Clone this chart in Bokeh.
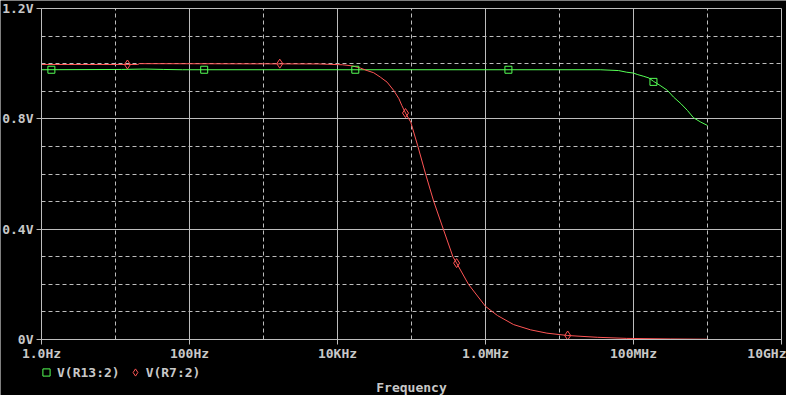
import numpy as np
from bokeh.plotting import figure
from bokeh.models import FixedTicker, Grid, Legend, LegendItem, Label
from bokeh.embed import file_html
from bokeh.resources import INLINE

# ---- data ----
x_ticks = [1, 1e2, 1e4, 1e6, 1e8, 1e10]
x_tick_labels = ["1.0Hz", "100Hz", "10KHz", "1.0MHz", "100MHz", "10GHz"]
x_minor_grid = [1e1, 1e3, 1e5, 1e7, 1e9]
y_ticks = [0, 0.4, 0.8, 1.2]
y_tick_labels = ["0V", "0.4V", "0.8V", "1.2V"]
y_minor_grid = [0.1, 0.2, 0.3, 0.5, 0.6, 0.7, 0.9, 1.0, 1.1]

green_freq = [1, 12, 25, 45, 80, 3.55e7, 6.3e7, 8.1e7, 1e8, 1.12e8, 1.38e8,
              1.62e8, 1.86e8, 2.29e8, 2.88e8, 3.47e8, 4.37e8, 5.37e8,
              6.46e8, 8.13e8, 1e9]
green_v = [0.978, 0.979, 0.9805, 0.979, 0.978, 0.978, 0.975, 0.969, 0.966,
           0.961, 0.954, 0.948, 0.936, 0.921, 0.903, 0.879, 0.855, 0.830,
           0.804, 0.788, 0.776]

red_freq = [1, 20, 21, 5.5e3, 1.17e4, 1.58e4, 2.04e4, 2.51e4, 3.09e4, 3.8e4,
            4.68e4, 5.75e4, 6.76e4, 7.41e4, 8.3e4, 9.77e4, 1.22e5, 1.55e5,
            2.0e5, 2.69e5, 3.63e5, 4.07e5, 5.89e5, 1e6, 1.45e6, 2.4e6,
            4.07e6, 6.76e6, 1.29e7, 3.24e7, 8.1e7, 3.2e8, 1e9]
red_v = [0.997, 0.997, 1.0, 0.999, 0.996, 0.992, 0.984, 0.975, 0.967, 0.951,
         0.933, 0.903, 0.873, 0.848, 0.821, 0.788, 0.70, 0.60, 0.50, 0.40,
         0.30, 0.277, 0.20, 0.12, 0.087, 0.054, 0.035, 0.023, 0.0145, 0.008,
         0.004, 0.002, 0.001]

green_mark_freq = [1.36, 158, 1.74e4, 2.04e6, 1.86e8]
green_mark_v = [0.978, 0.978, 0.978, 0.978, 0.934]
red_mark_freq = [14.5, 1660, 8.3e4, 4.07e5, 1.29e7]
red_mark_v = [0.997, 1.0, 0.821, 0.277, 0.0145]

series_names = ["V(R13:2)", "V(R7:2)"]
x_title = "Frequency"

GRID = "#bdbdbd"
TEXT = "#c8c8c8"
GREEN = "#55ff55"
RED = "#ff5555"
FONT = "DejaVu Sans Mono"

# ---- geometry: the frame is the whole canvas; data area 41..781 x 8..339 ----
X0, X1 = 1.0, 1e10
Y0, Y1 = 0.0, 1.2
PX_PER_DEC = 740 / 10.0
PX_PER_V = 331 / 1.2
LEFT_PX, RIGHT_PX, TOP_PX, FOOT_PX = 41, 5, 8, 56
x_start = 10 ** (np.log10(X0) - LEFT_PX / PX_PER_DEC)
x_end = 10 ** (np.log10(X1) + RIGHT_PX / PX_PER_DEC)
y_start = Y0 - FOOT_PX / PX_PER_V
y_end = Y1 + TOP_PX / PX_PER_V

p = figure(width=786, height=395, x_axis_type="log",
           x_range=(x_start, x_end), y_range=(y_start, y_end),
           min_border_left=0, min_border_right=0, min_border_top=0,
           min_border_bottom=0,
           output_backend="svg", toolbar_location=None,
           background_fill_color="black", border_fill_color="black")
p.outline_line_color = None

# grids (only over the data area)
p.xgrid.ticker = FixedTicker(ticks=x_ticks)
p.ygrid.ticker = FixedTicker(ticks=y_ticks)
for g in (p.xgrid, p.ygrid):
    g.grid_line_color = GRID
    g.grid_line_width = 1
minor_x = Grid(dimension=0, ticker=FixedTicker(ticks=x_minor_grid),
               grid_line_color=GRID, grid_line_dash="4 3")
minor_y = Grid(dimension=1, ticker=FixedTicker(ticks=y_minor_grid),
               grid_line_color=GRID, grid_line_dash="4 3")
p.add_layout(minor_x)
p.add_layout(minor_y)
for g in list(p.xgrid) + [minor_x]:
    g.cross_bounds = (Y0, Y1)
for g in list(p.ygrid) + [minor_y]:
    g.cross_bounds = (X0, X1)

# axes, pinned at the data-area edges
p.xaxis.ticker = FixedTicker(ticks=x_ticks)
p.xaxis.major_label_overrides = dict(zip(x_ticks, x_tick_labels))
p.xaxis.fixed_location = Y0
p.xaxis.bounds = (X0, X1)
p.yaxis.ticker = FixedTicker(ticks=y_ticks)
p.yaxis.major_label_overrides = dict(zip(y_ticks, y_tick_labels))
p.yaxis.fixed_location = X0
p.yaxis.bounds = (Y0, Y1)
for ax in (p.xaxis, p.yaxis):
    ax.axis_line_color = GRID
    ax.major_tick_line_color = GRID
    ax.major_tick_out = 5
    ax.major_tick_in = 0
    ax.minor_tick_line_color = None
    ax.major_label_text_color = TEXT
    ax.major_label_text_font = FONT
    ax.major_label_text_font_style = "bold"
    ax.major_label_text_font_size = "13px"
    ax.major_label_standoff = 3
p.xaxis.major_label_standoff = 1

# curves
p.line(green_freq, green_v, line_color=GREEN, line_width=1)
p.line(red_freq, red_v, line_color=RED, line_width=1)
gm = p.scatter(green_mark_freq, green_mark_v, marker="square", size=7,
               fill_color=None, line_color=GREEN, line_width=1)
rm = p.scatter(red_mark_freq, red_mark_v, marker="diamond", size=9,
               fill_color=None, line_color=RED, line_width=1)

# legend in the footer strip
legend = Legend(items=[LegendItem(label=series_names[0], renderers=[gm]),
                       LegendItem(label=series_names[1], renderers=[rm])],
                location=(37, 14), orientation="horizontal",
                background_fill_alpha=0, border_line_alpha=0,
                label_text_color=TEXT, label_text_font=FONT,
                label_text_font_style="bold", label_text_font_size="13px",
                glyph_width=18, glyph_height=18, label_standoff=2, spacing=6,
                padding=0, margin=0)
p.add_layout(legend, "center")

# x title
p.add_layout(Label(x=np.sqrt(X0 * X1), y=8, y_units="screen", text=x_title,
                   text_align="center", text_baseline="middle",
                   text_color=TEXT, text_font=FONT, text_font_style="bold",
                   text_font_size="13px"))

open("out.html", "w").write(file_html(p, INLINE))
